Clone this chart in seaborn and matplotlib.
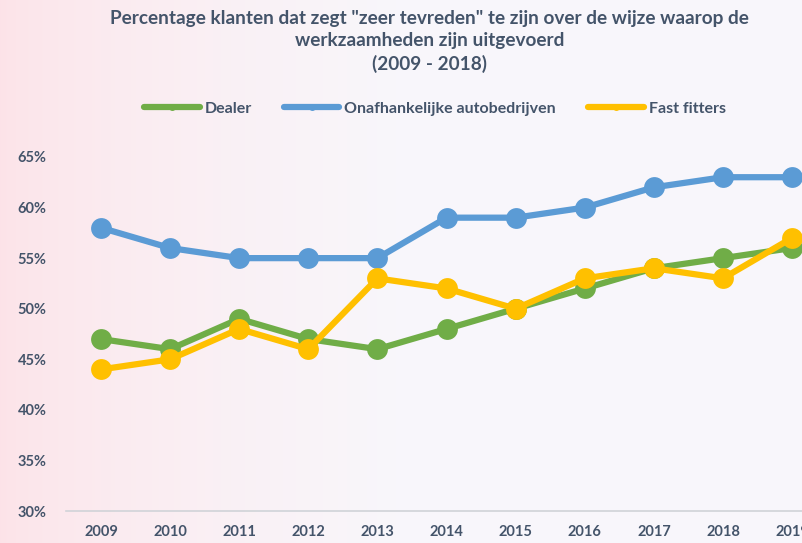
import matplotlib.pyplot as plt
import numpy as np
import pandas as pd
import seaborn as sns
from matplotlib.ticker import FuncFormatter

years = list(range(2009, 2020))
dealer = [47, 46, 49, 47, 46, 48, 50, 52, 54, 55, 56]
onafhankelijk = [58, 56, 55, 55, 55, 59, 59, 60, 62, 63, 63]
fast_fitters = [44, 45, 48, 46, 53, 52, 50, 53, 54, 53, 57]
series = ["Dealer", "Onafhankelijke autobedrijven", "Fast fitters"]
colors = ["#70AD47", "#5B9BD5", "#FFC000"]
text_color = "#44546A"

df = pd.DataFrame({
    "jaar": years * 3,
    "waarde": dealer + onafhankelijk + fast_fitters,
    "groep": [s for s in series for _ in years],
})

sns.set_style("white")
plt.rcParams["font.family"] = ["Lato", "DejaVu Sans"]
plt.rcParams["font.weight"] = "bold"

fig = plt.figure(figsize=(8.03, 5.43), dpi=100)

# soft pink background on the left fading to white
bg = fig.add_axes([0, 0, 1, 1], zorder=-10)
grad = np.linspace(0, 1, 400)
fade = np.clip(grad / 0.5, 0, 1) ** 0.7
top = np.array([0.99, 0.89, 0.91])
end = np.array([0.975, 0.968, 0.985])
img = (top[None, :] * (1 - fade[:, None]) + end[None, :] * fade[:, None])[None, :, :]
img = np.repeat(img, 2, axis=0)
bg.imshow(img, aspect="auto", extent=[0, 1, 0, 1])
bg.axis("off")

ax = fig.add_axes([0.0822, 0.0589, 0.918, 0.652])
ax.patch.set_alpha(0)
sns.lineplot(data=df, x="jaar", y="waarde", hue="groep", palette=colors,
             hue_order=series, marker="o", markersize=15, markeredgewidth=0,
             linewidth=4.5, ax=ax, clip_on=False)

ax.set_xlim(2008.494, 2019.16)
ax.set_ylim(30, 65)
ax.set_xticks(years)
ax.set_yticks(range(30, 66, 5))
ax.yaxis.set_major_formatter(FuncFormatter(lambda v, p: f"{v:.0f}%"))
ax.tick_params(axis="x", length=0, pad=10, labelsize=10.5, labelcolor=text_color)
ax.tick_params(axis="y", length=0, pad=14, labelsize=10.5, labelcolor=text_color)
for s in ["top", "right", "left"]:
    ax.spines[s].set_visible(False)
ax.spines["bottom"].set_color("#D0D3D8")
ax.spines["bottom"].set_linewidth(1.2)
ax.set_xlabel("")
ax.set_ylabel("")

leg = ax.legend(loc="center", bbox_to_anchor=(0.5, 1.136), ncol=3, frameon=False,
                fontsize=11.5, handlelength=3.5, columnspacing=2.0,
                handletextpad=0.3, labelcolor=text_color)
for h in leg.legend_handles:
    h.set_markersize(5)
    h.set_linewidth(4.5)

fig.text(0.535, 0.982, "Percentage klanten dat zegt \"zeer tevreden\" te zijn over de wijze waarop de\n"
         "werkzaamheden zijn uitgevoerd\n(2009 - 2018)", ha="center", va="top",
         fontsize=13.7, color=text_color, fontweight="bold", linespacing=1.38)

fig.savefig("out.png", dpi=100)
